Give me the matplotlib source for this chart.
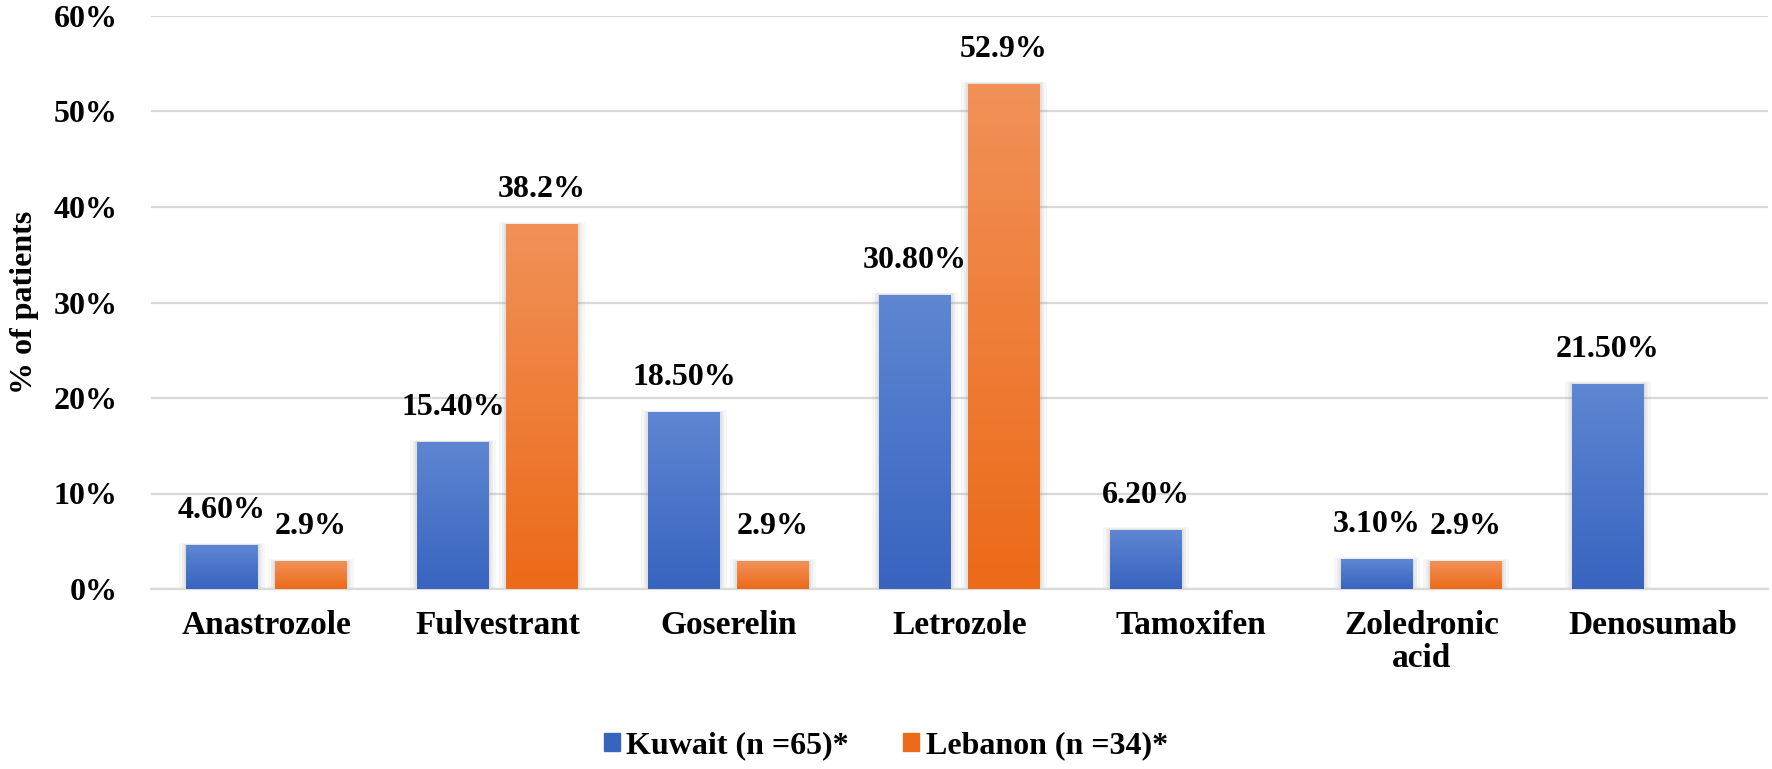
import numpy as np
import matplotlib
matplotlib.use("Agg")
import matplotlib.pyplot as plt
from matplotlib.patches import Patch
from matplotlib.ticker import FuncFormatter

# data
drugs = ['Anastrozole', 'Fulvestrant', 'Goserelin', 'Letrozole',
         'Tamoxifen', 'Zoledronic\nacid', 'Denosumab']
kuwait = [4.6, 15.4, 18.5, 30.8, 6.2, 3.1, 21.5]
lebanon = [2.9, 38.2, 2.9, 52.9, np.nan, 2.9, np.nan]
kuwait_labels = ['4.60%', '15.40%', '18.50%', '30.80%', '6.20%', '3.10%', '21.50%']
lebanon_labels = ['2.9%', '38.2%', '2.9%', '52.9%', '', '2.9%', '']
series_names = ['Kuwait (n =65)*', 'Lebanon (n =34)*']
y_ticks = [0, 10, 20, 30, 40, 50, 60]

blue_top, blue_bot = '#5E86D2', '#3864C0'
orange_top, orange_bot = '#F19158', '#EC6A18'

plt.rcParams['font.family'] = ['Liberation Serif', 'DejaVu Serif']
plt.rcParams['font.weight'] = 'bold'

fig = plt.figure(figsize=(17.72, 7.69), dpi=100)
ax = fig.add_axes([151/1772, 1-589/769, 1617/1772, 573/769])

x = np.arange(len(drugs))
width = 0.31
off = 0.193


def gradient_bars(bars, c_top, c_bot):
    grad = np.linspace(0, 1, 256).reshape(-1, 1)
    cmap = matplotlib.colors.LinearSegmentedColormap.from_list('g', [c_bot, c_top])
    for b in bars:
        h = b.get_height()
        if not np.isfinite(h) or h <= 0:
            continue
        x0 = b.get_x()
        im = ax.imshow(grad, cmap=cmap, origin='lower', aspect='auto',
                       extent=[x0, x0 + b.get_width(), 0, h], zorder=3)
        im.set_clip_path(b)


def shadow(bars):
    for b in bars:
        h = b.get_height()
        if not np.isfinite(h) or h <= 0:
            continue
        for k, a in [(0.03, 0.06), (0.018, 0.08), (0.008, 0.1)]:
            ax.add_patch(plt.Rectangle((b.get_x() - k, 0), b.get_width() + 2*k, h + k*8,
                                       color='#808080', alpha=a, lw=0, zorder=2))


b1 = ax.bar(x - off, kuwait, width, color=blue_bot, zorder=3)
b2 = ax.bar(x + off, lebanon, width, color=orange_bot, zorder=3)
shadow(b1)
shadow(b2)
gradient_bars(b1, blue_top, blue_bot)
gradient_bars(b2, orange_top, orange_bot)

for bars, labels in [(b1, kuwait_labels), (b2, lebanon_labels)]:
    for b, lab in zip(bars, labels):
        h = b.get_height()
        if not lab or not np.isfinite(h):
            continue
        ax.annotate(lab, (b.get_x() + b.get_width()/2, h), xytext=(0, 19.5),
                    textcoords='offset points', ha='center', va='baseline',
                    fontsize=23, fontweight='bold', zorder=5)

ax.set_xlim(-0.5, len(drugs) - 0.5)
ax.set_ylim(0, 60)
ax.set_yticks(y_ticks)
ax.yaxis.set_major_formatter(FuncFormatter(lambda v, p: f'{v:.0f}%'))
ax.set_xticks(x)
ax.set_xticklabels(drugs, fontsize=24, fontweight='bold', linespacing=1.1)
ax.tick_params(axis='y', length=0, pad=24, labelsize=23)
ax.tick_params(axis='x', length=0, pad=15)
ax.grid(axis='y', color='#D9D9D9', linewidth=1.6, zorder=0)
ax.set_axisbelow(True)
for s in ['top', 'right', 'left']:
    ax.spines[s].set_visible(False)
ax.spines['bottom'].set_color('#D9D9D9')
ax.spines['bottom'].set_linewidth(1.6)

fig.text(25/1772, 1-302/769, '% of patients', rotation=90, ha='center', va='center',
         fontsize=23, fontweight='bold')

handles = [Patch(color=blue_bot, label=series_names[0]),
           Patch(color=orange_bot, label=series_names[1])]
fig.legend(handles=handles, loc='center', bbox_to_anchor=(0.5, 1-746/769), ncol=2,
           frameon=False, fontsize=23, handlelength=0.5, handleheight=0.5,
           handletextpad=0.2, columnspacing=1.7, borderaxespad=0)

fig.savefig('out.png', dpi=100)
